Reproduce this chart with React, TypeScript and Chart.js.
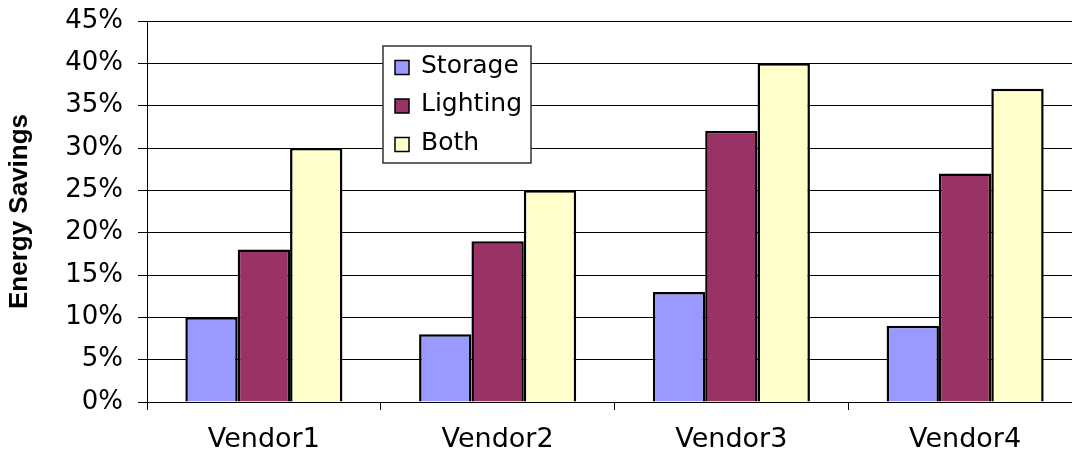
import React, { useEffect, useRef } from 'react';
import { Chart, registerables } from 'chart.js';

Chart.register(...registerables);

const categories = ['Vendor1', 'Vendor2', 'Vendor3', 'Vendor4'];
const seriesNames = ['Storage', 'Lighting', 'Both'];
const storageValues = [10, 8, 13, 9];
const lightingValues = [18, 19, 32, 27];
const bothValues = [30, 25, 40, 37];
const seriesColors = ['#9999FF', '#993366', '#FFFFCC'];
const yMax = 45;
const yStep = 5;
const yTitle = 'Energy Savings';

const legendBoxPlugin = {
  id: 'legendBox',
  afterDraw(chart: any) {
    const { ctx, chartArea } = chart;
    const x0 = chartArea.left + 236;
    const y0 = chartArea.top + 25;
    const w = 148;
    const h = 117;
    ctx.save();
    ctx.fillStyle = '#ffffff';
    ctx.fillRect(x0, y0, w, h);
    ctx.strokeStyle = '#333333';
    ctx.lineWidth = 1.5;
    ctx.strokeRect(x0, y0, w, h);
    ctx.font = '25px "DejaVu Sans"';
    ctx.textBaseline = 'middle';
    ctx.textAlign = 'left';
    chart.data.datasets.forEach((ds: any, i: number) => {
      const cy = y0 + 21.5 + i * 38.5;
      ctx.fillStyle = ds.backgroundColor;
      ctx.fillRect(x0 + 12, cy - 7, 14, 14);
      ctx.strokeStyle = '#000000';
      ctx.lineWidth = 1.5;
      ctx.strokeRect(x0 + 12, cy - 7, 14, 14);
      ctx.fillStyle = '#000000';
      ctx.fillText(ds.label, x0 + 38, cy - 1.5);
    });
    ctx.restore();
  },
};

export default function App() {
  const canvasRef = useRef<HTMLCanvasElement | null>(null);

  useEffect(() => {
    document.body.style.margin = '0';
    const canvas = canvasRef.current;
    if (!canvas) return;
    const values = [storageValues, lightingValues, bothValues];
    const chart = new Chart(canvas, {
      type: 'bar',
      data: {
        labels: categories,
        datasets: seriesNames.map((name, i) => ({
          label: name,
          data: values[i],
          backgroundColor: seriesColors[i],
          borderColor: '#000000',
          borderWidth: 2.5,
          barPercentage: 1,
          categoryPercentage: 0.672,
        })),
      },
      options: {
        animation: false,
        responsive: false,
        maintainAspectRatio: false,
        layout: { padding: { left: 0, top: 21, right: 0, bottom: 0 } },
        plugins: {
          legend: { display: false },
          tooltip: { enabled: false },
        },
        scales: {
          x: {
            grid: {
              offset: true,
              drawOnChartArea: false,
              drawTicks: true,
              tickLength: 8,
              color: '#000000',
              lineWidth: 1,
            },
            border: { color: '#000000', width: 1 },
            ticks: {
              font: { family: 'DejaVu Sans', size: 27 },
              color: '#000000',
              padding: 14,
              maxRotation: 0,
            },
            afterFit: (s: any) => {
              s.height = 48;
              s.paddingLeft = 0;
              s.paddingRight = 0;
            },
          },
          y: {
            min: 0,
            max: yMax,
            ticks: {
              stepSize: yStep,
              callback: (v: any) => `${v}%`,
              font: { family: 'DejaVu Sans', size: 26 },
              color: '#000000',
              padding: 15,
            },
            grid: { color: '#000000', lineWidth: 1, tickLength: 9 },
            border: { color: '#000000', width: 1 },
            title: {
              display: true,
              text: yTitle,
              font: { family: 'Liberation Sans', weight: 'bold', size: 26 },
              color: '#000000',
              padding: { top: 4, bottom: 0 },
            },
            afterFit: (s: any) => {
              s.width = 147;
              s.paddingTop = 0;
              s.paddingBottom = 0;
            },
          },
        },
      },
      plugins: [legendBoxPlugin],
    });
    return () => chart.destroy();
  }, []);

  return (
    <div style={{ position: 'absolute', left: 0, top: 0, width: 1072, height: 450, overflow: 'hidden', background: '#fff' }}>
      <canvas ref={canvasRef} width={1082} height={450} style={{ display: 'block' }} />
    </div>
  );
}
